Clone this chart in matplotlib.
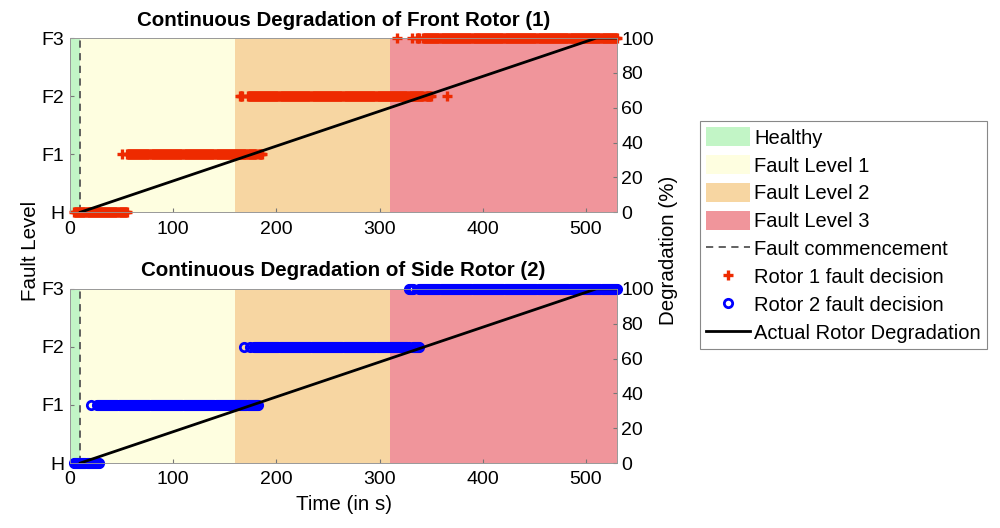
import matplotlib.pyplot as plt
import numpy as np

plt.rcParams['font.family'] = ['Liberation Sans', 'DejaVu Sans']

# Niveis de falha e regioes de tempo
fault_levels = ['H', 'F1', 'F2', 'F3']
region_edges = [0, 10, 160, 310, 530]
region_labels = ['Healthy', 'Fault Level 1', 'Fault Level 2', 'Fault Level 3']
region_colors = ['#c2f5c6', '#fefee0', '#f7d6a2', '#f0959b']
fault_start = 10

# Degradacao real do rotor (%)
deg_time = [10, 510, 530]
deg_value = [0, 100, 100]

# Decisoes de falha: trechos (inicio, fim, nivel), amostra de 1 s
rotor1_runs = [(4, 55, 0),
               (50, 50, 1), (55, 180, 1), (183, 186, 1),
               (165, 167, 2), (172, 342, 2), (345, 350, 2), (365, 365, 2),
               (317, 317, 3), (331, 331, 3), (336, 338, 3), (342, 530, 3)]
rotor2_runs = [(4, 28, 0),
               (20, 20, 1), (26, 182, 1),
               (169, 169, 2), (174, 174, 2), (178, 328, 2), (332, 338, 2),
               (328, 332, 3), (338, 530, 3)]

titles = ['Continuous Degradation of Front Rotor (1)',
          'Continuous Degradation of Side Rotor (2)']


def expande(runs):
    t = []
    nivel = []
    for ini, fim, lv in runs:
        for k in range(ini, fim + 1):
            t.append(k)
            nivel.append(lv)
    return np.array(t), np.array(nivel)


fig = plt.figure(figsize=(10, 5.28), dpi=100)
posicoes = [[0.07, 0.598, 0.547, 0.33], [0.07, 0.123, 0.547, 0.33]]
estilos = [dict(marker='+', color='#ee2a00', ms=6.5, mew=2.4, label='Rotor 1 fault decision'),
           dict(marker='o', color='#0000ff', mfc='none', ms=6, mew=2, label='Rotor 2 fault decision')]

handles = []
for n, runs in enumerate([rotor1_runs, rotor2_runs]):
    ax = fig.add_axes(posicoes[n])
    patches = []
    for k in range(4):
        p = ax.axvspan(region_edges[k], region_edges[k + 1], color=region_colors[k],
                       lw=0, label=region_labels[k])
        patches.append(p)
    dash, = ax.plot([fault_start, fault_start], [0, 3], color='#555555', ls=(0, (4, 3)), lw=1.3,
                    label='Fault commencement')
    t, nivel = expande(runs)
    dec, = ax.plot(t, nivel, ls='none', clip_on=False, zorder=5, **estilos[n])
    ax.set_xlim(0, 530)
    ax.set_ylim(0, 3)
    ax.set_yticks(range(4))
    ax.set_yticklabels(fault_levels)
    ax.set_xticks(range(0, 501, 100))
    ax.tick_params(direction='in', labelsize=14, length=3, color='#777777', pad=4)
    ax.tick_params(axis='x', pad=6)
    ax.set_title(titles[n], fontsize=14.8, fontweight='bold', pad=9)

    ax2 = ax.twinx()
    deg, = ax2.plot(deg_time, deg_value, color='k', lw=2, label='Actual Rotor Degradation')
    ax2.set_ylim(0, 100)
    ax2.set_yticks(range(0, 101, 20))
    ax2.tick_params(direction='in', labelsize=14, length=3, color='#777777', pad=3)
    for a in [ax, ax2]:
        for s in a.spines.values():
            s.set_color('#999999')
            s.set_linewidth(0.6)

    if n == 0:
        handles = patches + [dash, dec]
    else:
        handles = handles + [dec, deg]
        ax.set_xlabel('Time (in s)', fontsize=14.8, labelpad=5)

fig.text(0.03, 0.525, 'Fault Level', rotation=90, ha='center', va='center', fontsize=14.8)
fig.text(0.668, 0.525, 'Degradation (%)', rotation=90, ha='center', va='center', fontsize=14.8)

leg = fig.legend(handles=handles, loc='upper left', bbox_to_anchor=(0.70, 0.77),
                 fontsize=14.5, fancybox=False, framealpha=1, edgecolor='#888888',
                 handlelength=2.2, handleheight=1.05, handletextpad=0.2,
                 labelspacing=0.38, borderpad=0.3, borderaxespad=0)
leg.get_frame().set_linewidth(0.8)

fig.savefig('out.png', dpi=100)
